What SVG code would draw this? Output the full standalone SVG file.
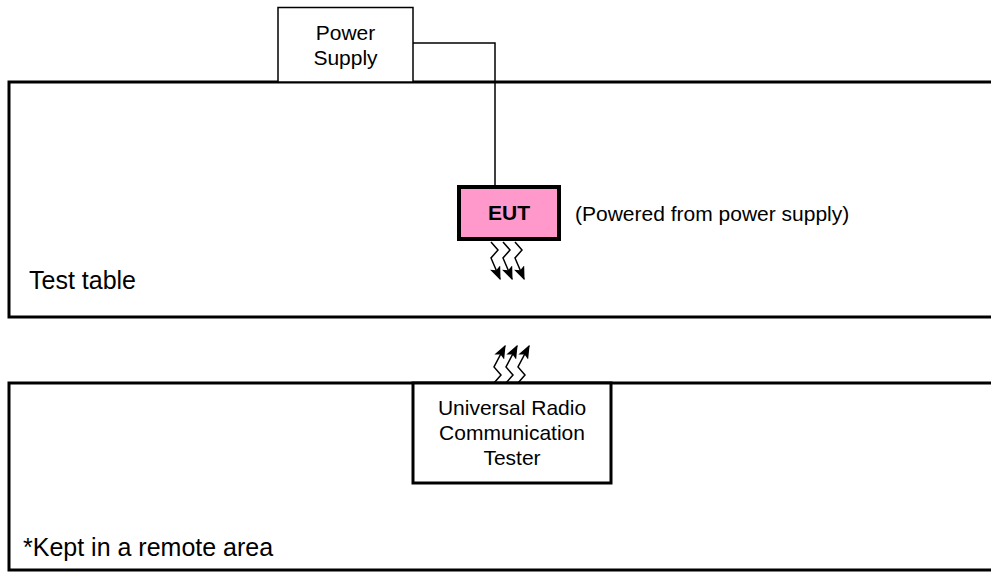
<svg xmlns="http://www.w3.org/2000/svg" width="991" height="572" viewBox="0 0 991 572">
<defs>
<marker id="ah" viewBox="0 0 10 8" refX="9" refY="4" markerWidth="14" markerHeight="11" markerUnits="userSpaceOnUse" orient="auto">
<path d="M0,0 L10,4 L0,8 L2,4 Z" fill="#000"/>
</marker>
</defs>
<style>
text{font-family:"Liberation Sans",Arial,sans-serif;fill:#000}
.t{font-size:21px}
.c{text-anchor:middle}
.big{font-size:25px}
.frame{fill:none;stroke:#000;stroke-width:3}
.box{fill:#fff;stroke:#000;stroke-width:3}
.thin{fill:#fff;stroke:#000;stroke-width:1.5}
.wire{fill:none;stroke:#000;stroke-width:1.5}
.rf{fill:none;stroke:#000;stroke-width:1.5;marker-end:url(#ah)}
</style>
<rect width="991" height="572" fill="#fff"/>
<g id="test-table">
<rect class="frame" x="9" y="82" width="1000" height="235"/>
<text class="big" x="29" y="289">Test table</text>
</g>
<g id="remote-area">
<rect class="frame" x="9" y="383" width="1000" height="187"/>
<text class="big" x="23" y="556">*Kept in a remote area</text>
</g>
<g id="power-supply">
<rect class="thin" x="278" y="7.5" width="135" height="74.5"/>
<text class="t c" x="345.5" y="40">Power</text>
<text class="t c" x="345.5" y="65">Supply</text>
</g>
<g id="eut">
<rect x="459" y="187" width="100" height="52" fill="#ff99cc" stroke="#000" stroke-width="4"/>
<text class="t c" x="509" y="220" font-weight="bold">EUT</text>
<text class="t" x="575" y="221">(Powered from power supply)</text>
</g>
<g id="tester">
<rect class="box" x="413" y="383" width="198" height="100"/>
<text class="t c" x="512" y="415">Universal Radio</text>
<text class="t c" x="512" y="440">Communication</text>
<text class="t c" x="512" y="465">Tester</text>
</g>
<g id="connectors">
<path class="wire" d="M413,43 H495 V187"/>
<path class="rf" d="M491,242 L498,250 L491,258 L500,279"/>
<path class="rf" d="M503,242 L510,250 L503,258 L512,279"/>
<path class="rf" d="M515,242 L522,250 L515,258 L524,279"/>
<path class="rf" d="M494,383 L501,375 L494,367 L505,346"/>
<path class="rf" d="M506,383 L513,375 L506,367 L517,346"/>
<path class="rf" d="M518,383 L525,375 L518,367 L529,346"/>
</g>
</svg>
